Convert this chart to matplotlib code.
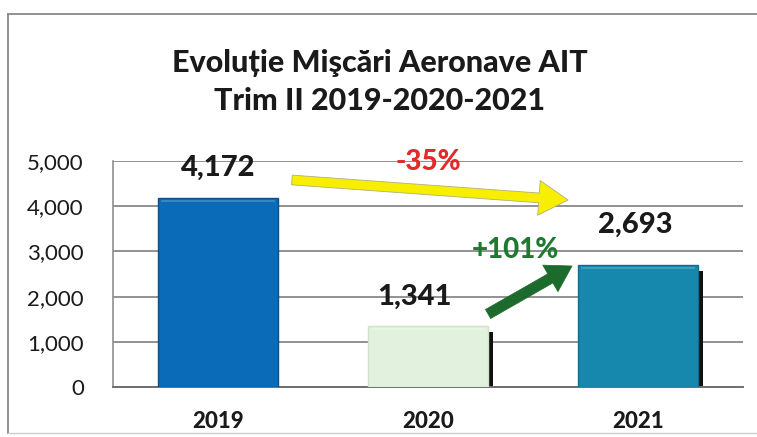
import matplotlib
matplotlib.use("Agg")
import matplotlib.pyplot as plt
from matplotlib.lines import Line2D
from matplotlib.ticker import FuncFormatter

categories = ["2019", "2020", "2021"]
values = [4172, 1341, 2693]
value_labels = ["4,172", "1,341", "2,693"]
yticks = [0, 1000, 2000, 3000, 4000, 5000]
title_lines = ["Evoluție Mişcări Aeronave AIT", "Trim II 2019-2020-2021"]
pct_down = "-35%"
pct_up = "+101%"

bar_colors = ["#0a6cb8", "#e2f1de", "#1688ae"]
edge_colors = ["#0a4f8a", "#cfe3cb", "#0f6f8f"]
shadow = [False, True, True]
label_offsets = [(0, 22), (-10, 21), (-2, 29)]

plt.rcParams['font.family'] = ['Lato', 'DejaVu Sans']

fig = plt.figure(figsize=(7.57, 4.37), dpi=100)
fig.patch.set_facecolor("white")

# outer chart border (top, left, bottom)
bc = "#8a8a8a"
fig.add_artist(Line2D([8/757, 1.0], [1-14/437, 1-14/437], transform=fig.transFigure, color=bc, lw=1.3))
fig.add_artist(Line2D([8/757, 8/757], [1-14/437, 1-433/437], transform=fig.transFigure, color=bc, lw=1.3))
fig.add_artist(Line2D([8/757, 1.0], [1-433/437, 1-433/437], transform=fig.transFigure, color="#cccccc", lw=1.0))

ax = fig.add_axes([113/757, 1-387/437, 630/757, 226/437])
x = list(range(len(categories)))
width = 0.57

ax.set_xlim(-0.5, 2.5)
ax.set_ylim(0, 5000)
ax.set_yticks(yticks)
ax.yaxis.set_major_formatter(FuncFormatter(lambda v, p: f"{int(v):,}"))
ax.grid(axis="y", color="#7f7f7f", linewidth=1.2, zorder=0)
ax.set_axisbelow(True)
for s in ["top", "right"]:
    ax.spines[s].set_visible(False)
ax.spines["left"].set_color("#8f8f8f")
ax.spines["left"].set_linewidth(1.2)
ax.spines["bottom"].set_color("#6f6f6f")
ax.spines["bottom"].set_linewidth(1.4)
ax.tick_params(axis="both", length=0)
ax.tick_params(axis="y", labelsize=16, pad=21, labelcolor="#1a1a1a")
ax.tick_params(axis="x", labelsize=16, pad=17, labelcolor="#1a1a1a")
ax.set_xticks(x)
ax.set_xticklabels(categories, fontweight="black")

# shadows
for xi, v, sh in zip(x, values, shadow):
    if sh:
        ax.bar(xi + 0.025, v - 120, width=width, bottom=0, color="#111111", zorder=2)

bars = ax.bar(x, values, width=width, color=bar_colors, edgecolor=edge_colors,
              linewidth=1.0, zorder=3)

# top highlight strip
for xi, v in zip(x, values):
    ax.bar(xi, 60, width=width*0.96, bottom=v - 90, color="white", alpha=0.18,
           zorder=4, linewidth=0)

for xi, v, lab, off in zip(x, values, value_labels, label_offsets):
    ax.annotate(lab, (xi, v), xytext=off, textcoords="offset points",
                ha="center", va="center", fontsize=21, fontweight="black",
                color="#1a1a1a", zorder=6)

# arrows
ax.annotate("", xy=(1.667, 4137), xytext=(0.352, 4580),
            arrowprops=dict(arrowstyle="simple,head_length=21,head_width=25,tail_width=7",
                            mutation_scale=1, facecolor="#f7ee00", edgecolor="#b0b080",
                            linewidth=0.6, shrinkA=0, shrinkB=0), zorder=5)
ax.annotate("", xy=(1.686, 2677), xytext=(1.286, 1615),
            arrowprops=dict(arrowstyle="simple,head_length=18,head_width=22,tail_width=7.5",
                            mutation_scale=1, facecolor="#1d6b2c", edgecolor="#1d6b2c",
                            linewidth=0.5, shrinkA=0, shrinkB=0), zorder=5)

ax.text(1.0, 4980, pct_down, ha="center", va="center", fontsize=20, fontweight="black",
        color="#e32a28", zorder=6)
ax.text(1.414, 3030, pct_up, ha="center", va="center", fontsize=20, fontweight="black",
        color="#1e7a30", zorder=6)

fig.text(380/757, 1-63/437, title_lines[0], ha="center", va="center",
         fontsize=22, fontweight="black", color="#1a1a1a")
fig.text(380/757, 1-101/437, title_lines[1], ha="center", va="center",
         fontsize=22, fontweight="black", color="#1a1a1a")

fig.savefig("out.png", dpi=100, facecolor="white")
